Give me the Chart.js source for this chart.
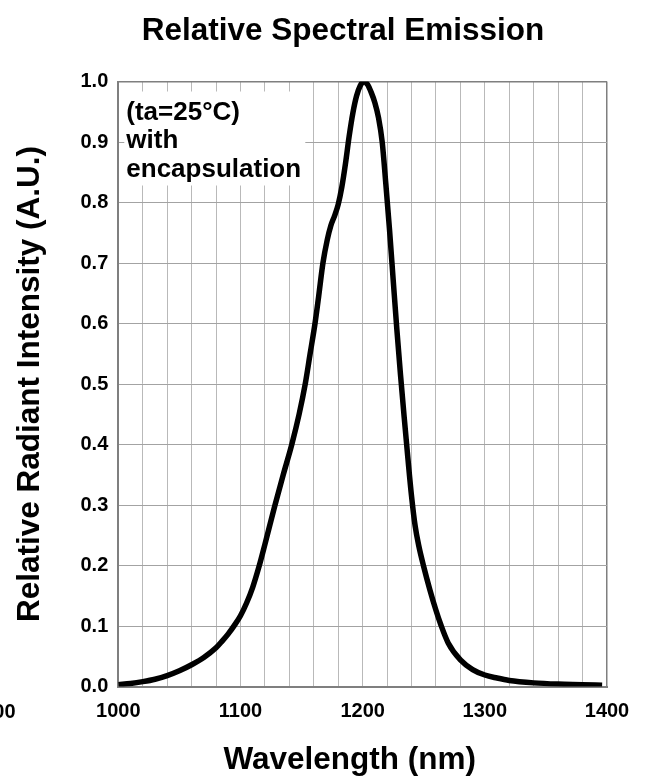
<!DOCTYPE html>
<html>
<head>
<meta charset="utf-8">
<script src="https://cdn.jsdelivr.net/npm/chart.js@4.4.1/dist/chart.umd.min.js"></script>
<style>
  html, body { margin: 0; padding: 0; background: #fff; }
  #wrap { width: 649px; height: 779px; position: relative; }
</style>
</head>
<body>
<div id="wrap"><canvas id="spectrumChart"></canvas></div>
<script>
// wavelength (nm) and relative intensity
const wavelengths = [1000, 1010, 1020, 1030, 1040, 1050, 1060, 1070, 1080, 1085,
  1090, 1095, 1100, 1105, 1110, 1115, 1120, 1128, 1135, 1142, 1148, 1153, 1157,
  1161, 1164, 1167.5, 1171, 1174, 1177, 1180, 1183, 1186, 1189,
  1192, 1195, 1198, 1201, 1204, 1207, 1210, 1213, 1216, 1219,
  1222, 1225, 1228, 1231, 1234, 1237, 1240, 1243, 1246, 1250,
  1255, 1260, 1264, 1270, 1280, 1290, 1300, 1310, 1320, 1340, 1360, 1380, 1396];
const intensities = [0.003, 0.005, 0.008, 0.012, 0.018, 0.026, 0.036, 0.048, 0.064, 0.075,
  0.087, 0.101, 0.117, 0.138, 0.164, 0.197, 0.235, 0.298, 0.35, 0.4, 0.45, 0.5, 0.55,
  0.6, 0.645, 0.7, 0.738, 0.762, 0.778, 0.797, 0.826, 0.865, 0.91,
  0.948, 0.976, 0.993, 1.0, 0.995, 0.982, 0.965, 0.94, 0.9, 0.83,
  0.755, 0.672, 0.59, 0.515, 0.445, 0.378, 0.315, 0.265, 0.232, 0.198,
  0.16, 0.126, 0.102, 0.072, 0.044, 0.028, 0.019, 0.014, 0.01, 0.006, 0.004, 0.003, 0.002];

const xLabelValues = [1000, 1100, 1200, 1300, 1400];
const noteLines = ['(ta=25°C)', 'with', 'encapsulation'];
const chartTitle = 'Relative Spectral Emission';
const xTitle = 'Wavelength (nm)';
const yTitle = 'Relative Radiant Intensity (A.U.)';

const FONT = "'Liberation Sans', Arial, sans-serif";

const points = wavelengths.map((w, i) => ({ x: w, y: intensities[i] }));

// title, x title, note box
const textPlugin = {
  id: 'textPlugin',
  beforeDatasetsDraw(chart) {
    const { ctx, chartArea } = chart;
    ctx.save();
    ctx.fillStyle = '#fff';
    ctx.fillRect(chartArea.left + 6, chartArea.top + 10, 181, 94);
    ctx.fillStyle = '#000';
    ctx.font = 'bold 26px ' + FONT;
    ctx.textAlign = 'left';
    ctx.textBaseline = 'alphabetic';
    const baselines = [120, 148, 176.5];
    noteLines.forEach((t, i) => ctx.fillText(t, chartArea.left + 8, baselines[i]));
    ctx.restore();
  },
  afterDraw(chart) {
    const { ctx } = chart;
    ctx.save();
    ctx.fillStyle = '#000';
    ctx.textBaseline = 'alphabetic';
    ctx.textAlign = 'center';
    ctx.font = 'bold 31.5px ' + FONT;
    ctx.fillText(chartTitle, 343, 40);
    ctx.fillText(xTitle, 349.7, 769);
    // cut-off tick label of the neighbouring chart
    ctx.textAlign = 'right';
    ctx.font = 'bold 20px ' + FONT;
    ctx.fillText('1400', 15.5, 718);
    ctx.restore();
  }
};

const ctx = document.getElementById('spectrumChart').getContext('2d');
const spectrumChart = new Chart(ctx, {
  type: 'line',
  data: {
    datasets: [{
      data: points,
      borderColor: '#000',
      borderWidth: 5.5,
      pointRadius: 0,
      cubicInterpolationMode: 'monotone',
      fill: false
    }]
  },
  plugins: [textPlugin],
  options: {
    responsive: true,
    maintainAspectRatio: false,
    animation: false,
    devicePixelRatio: 1,
    layout: { padding: { top: 81.5, left: 0, right: 42, bottom: 0 } },
    plugins: {
      legend: { display: false },
      tooltip: { enabled: false }
    },
    scales: {
      x: {
        type: 'linear',
        min: 1000,
        max: 1400,
        afterFit: (s) => { s.height = 92.5; },
        ticks: {
          stepSize: 20,
          padding: 13,
          color: '#000',
          font: { family: FONT, size: 20, weight: 'bold' },
          maxRotation: 0,
          autoSkip: false,
          callback: (v) => xLabelValues.includes(v) ? String(v) : ''
        },
        grid: {
          drawTicks: false,
          color: (c) => c.tick && c.tick.value === 1400 ? '#7f7f7f' : '#b9b9b9',
          lineWidth: (c) => c.tick && c.tick.value === 1400 ? 1.5 : 1
        },
        border: { color: '#7f7f7f', width: 2 }
      },
      y: {
        min: 0,
        max: 1,
        afterFit: (s) => { s.width = 118.3; },
        ticks: {
          stepSize: 0.1,
          padding: 10,
          color: '#000',
          font: { family: FONT, size: 20, weight: 'bold' },
          callback: (v) => Number(v).toFixed(1)
        },
        grid: {
          drawTicks: false,
          color: (c) => c.tick && Math.abs(c.tick.value - 1) < 1e-6 ? '#7f7f7f' : '#a3a3a3',
          lineWidth: (c) => c.tick && Math.abs(c.tick.value - 1) < 1e-6 ? 1.5 : 1
        },
        border: { color: '#7f7f7f', width: 2 },
        title: {
          display: true,
          text: yTitle,
          color: '#000',
          font: { family: FONT, size: 31.5, weight: 'bold' },
          padding: { top: 11, bottom: 0 }
        }
      }
    }
  }
});
</script>
</body>
</html>
